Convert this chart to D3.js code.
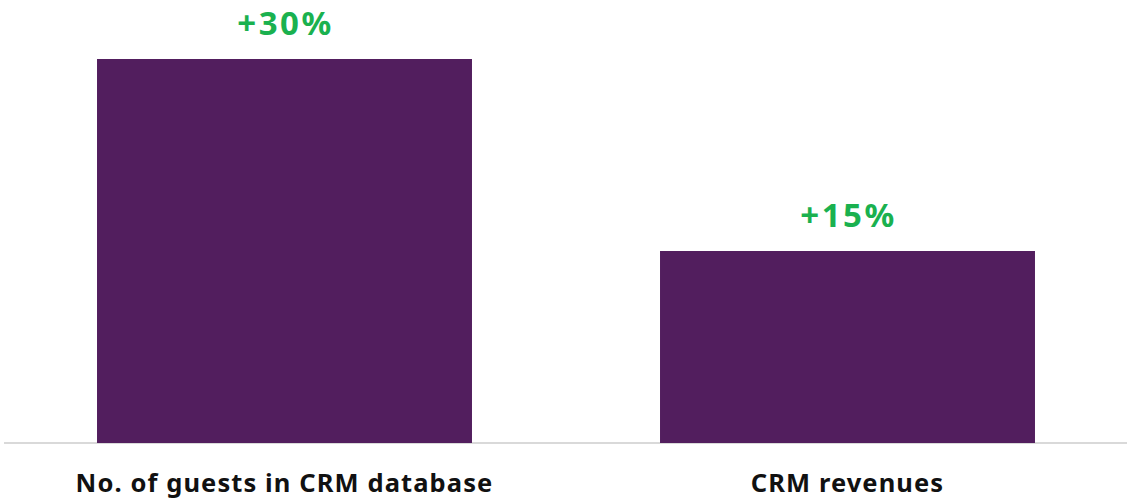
<!DOCTYPE html>
<html lang="en">
<head>
  <meta charset="utf-8">
  <title>CRM chart</title>
  <script src="https://d3js.org/d3.v7.min.js"></script>
  <style>
    body { margin: 0; background: #fff; }
    .cat { font: bold 25.5px "Noto Sans", sans-serif; fill: #111; letter-spacing: 1.1px; }
    .val { font: bold 33px "Noto Sans", sans-serif; fill: #1ab14f; letter-spacing: 2.5px; }
  </style>
</head>
<body>
<svg id="chart" width="1127" height="498"></svg>
<script>
  var categories = ["No. of guests in CRM database", "CRM revenues"];
  var values = [30, 15];
  var valueLabels = ["+30%", "+15%"];

  var svg = d3.select("#chart");

  var x = d3.scaleBand()
      .domain(categories)
      .range([3, 1129])
      .paddingInner(0.334)
      .paddingOuter(0.167);

  var y = d3.scaleLinear()
      .domain([0, 30])
      .range([443, 59]);

  // baseline
  svg.append("line")
    .attr("x1", 4).attr("x2", 1127)
    .attr("y1", 443).attr("y2", 443)
    .attr("stroke", "#d9d9d9")
    .attr("stroke-width", 2);

  svg.selectAll("rect.bar")
    .data(values)
    .enter()
    .append("rect")
      .attr("class", "bar")
      .attr("x", function(d, i) { return x(categories[i]); })
      .attr("y", function(d) { return y(d); })
      .attr("width", x.bandwidth())
      .attr("height", function(d) { return y(0) - y(d); })
      .attr("fill", "#521e5e");

  svg.selectAll("text.val")
    .data(values)
    .enter()
    .append("text")
      .attr("class", "val")
      .attr("text-anchor", "middle")
      .attr("x", function(d, i) { return x(categories[i]) + x.bandwidth() / 2 + 1; })
      .attr("y", function(d) { return y(d) - 24; })
      .text(function(d, i) { return valueLabels[i]; });

  // category labels under the axis
  svg.append("g")
    .attr("transform", "translate(0,443)")
    .call(d3.axisBottom(x).tickSize(0))
    .call(function(g) { g.select(".domain").remove(); })
    .selectAll("text")
      .attr("class", "cat")
      .attr("y", 49)
      .attr("dy", 0)
      .attr("fill", null)
      .attr("font-size", null)
      .attr("font-family", null);
</script>
</body>
</html>
